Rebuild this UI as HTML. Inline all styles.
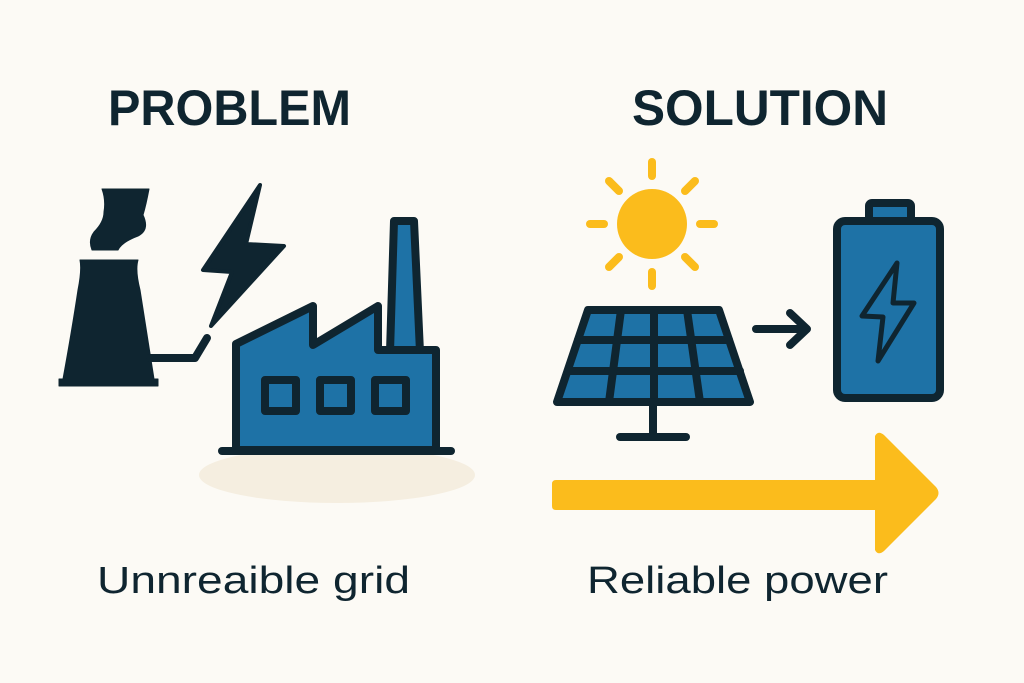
<!DOCTYPE html>
<html><head><meta charset="utf-8"><style>
html,body{margin:0;padding:0;background:#fcfaf5;}
svg{display:block;}
</style></head><body>
<svg width="1024" height="683" viewBox="0 0 1024 683" xmlns="http://www.w3.org/2000/svg">
<rect width="1024" height="683" fill="#fcfaf5"/>
<g font-family="Liberation Sans, sans-serif" fill="#0f2530">
<text x="108" y="125" font-size="50" font-weight="bold" textLength="243" lengthAdjust="spacingAndGlyphs">PROBLEM</text>
<text x="632" y="125" font-size="50" font-weight="bold" textLength="256" lengthAdjust="spacingAndGlyphs">SOLUTION</text>
<text x="97" y="593" font-size="38" textLength="313" lengthAdjust="spacingAndGlyphs">Unnreaible grid</text>
<text x="587" y="593" font-size="38" textLength="301" lengthAdjust="spacingAndGlyphs">Reliable power</text>
</g>
<!-- shadow -->
<ellipse cx="337" cy="475" rx="138" ry="28" fill="#f5eee0"/>
<!-- cooling tower -->
<g fill="#0f2530" stroke="#0f2530" stroke-linejoin="round">
<path d="M102,189 L149,189 Q146,205 143,215 Q150,230 138,236 Q122,242 118,250 L92,250 Q88,240 94,232 Q104,222 104,212 Q106,200 102,189 Z"/>
<path d="M80,260 L138,260 Q135,270 140,290 Q148,340 154,379 L158,379 L158,386 L59,386 L59,379 L63,379 Q72,330 78,290 Q82,270 80,260 Z"/>
<path d="M150,358 L195,358 L207,338" fill="none" stroke-width="8" stroke-linecap="round"/>
<path d="M260,185 L203,270 L232,272 L211,326 L284,246 L246,244 Z" stroke-width="4"/>
</g>
<!-- factory -->
<g stroke="#0f2530" stroke-width="8" stroke-linejoin="round" fill="#1e72a6">
<path d="M390,352 L394,221 L414,221 L420,352 Z"/>
<path d="M236,344 L313,306 L313,345 L378,306 L378,350 L436,350 L436,450 L236,450 Z"/>
<rect x="265" y="380" width="31" height="31"/>
<rect x="320" y="380" width="31" height="31"/>
<rect x="375" y="380" width="31" height="31"/>
<line x1="222" y1="451" x2="451" y2="451" stroke-linecap="round"/>
</g>
<!-- sun -->
<g stroke="#fbbc1c" stroke-width="8" stroke-linecap="round" fill="#fbbc1c">
<circle cx="652" cy="224" r="35" stroke="none"/>
<line x1="652" y1="162" x2="652" y2="176"/>
<line x1="652" y1="272" x2="652" y2="286"/>
<line x1="590" y1="224" x2="604" y2="224"/>
<line x1="700" y1="224" x2="714" y2="224"/>
<line x1="609" y1="181" x2="619" y2="191"/>
<line x1="685" y1="257" x2="695" y2="267"/>
<line x1="695" y1="181" x2="685" y2="191"/>
<line x1="619" y1="257" x2="609" y2="267"/>
</g>
<!-- solar panel -->
<g stroke="#0f2530" stroke-width="8" stroke-linejoin="round" stroke-linecap="round">
<path d="M588,310 L719,310 L750,402 L557,402 Z" fill="#1e72a6"/>
<line x1="578" y1="340" x2="729" y2="340"/>
<line x1="568" y1="371" x2="740" y2="371"/>
<line x1="621" y1="310" x2="609" y2="402"/>
<line x1="654" y1="310" x2="654" y2="402"/>
<line x1="687" y1="310" x2="700" y2="402"/>
<line x1="653" y1="402" x2="653" y2="436"/>
<line x1="620" y1="437" x2="686" y2="437"/>
<path d="M756,329 L806,329 M790,313 L807,329 L790,345" fill="none"/>
</g>
<!-- battery -->
<g stroke="#0f2530" stroke-width="8" stroke-linejoin="round" fill="#1e72a6">
<rect x="869" y="203" width="42" height="20" rx="3"/>
<rect x="837" y="221" width="103" height="177" rx="8"/>
<path d="M897,263 L862,316 L883,317 L878,361 L914,303 L893,303 Z" stroke-width="5"/>
</g>
<!-- big arrow -->
<path d="M556,480 L875,480 L875,436 Q878,430 884,435 L936,487 Q941,493 936,499 L884,551 Q878,556 875,550 L875,510 L556,510 Q552,510 552,506 L552,484 Q552,480 556,480 Z" fill="#fbbc1c"/>
</svg>
</body></html>
